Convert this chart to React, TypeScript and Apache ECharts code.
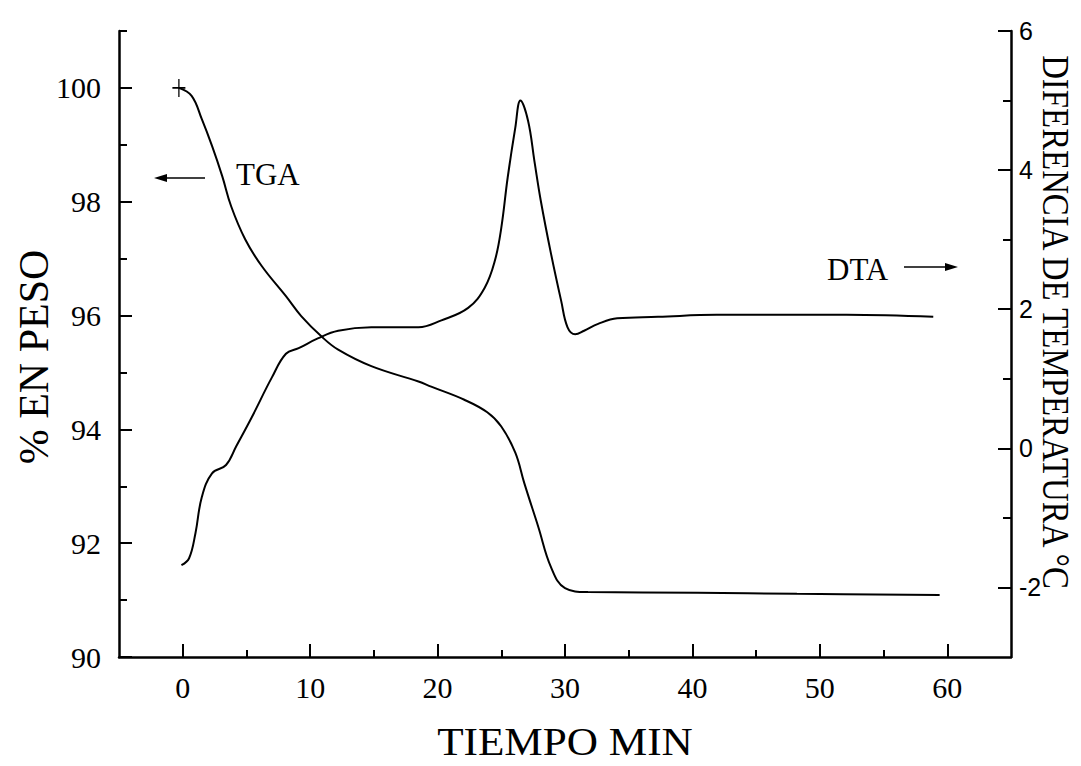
import React, { useEffect, useRef } from "react";
import * as echarts from "echarts";

// TGA curve (left axis, % weight) vs time (min)
const tgaTime = [-0.3, 0.7, 1.5, 2.3, 3.1, 3.8, 4.9, 6.2, 8.1, 9.3, 10.9, 12.2, 14.8, 18.5, 19.5, 22.1, 23.9, 25.0, 26.1, 26.8, 27.9, 28.9, 30.0, 31.8, 40.4, 48.2, 59.4];
const tgaWeight = [100.0, 99.86, 99.45, 98.98, 98.45, 97.92, 97.34, 96.87, 96.34, 95.99, 95.63, 95.40, 95.11, 94.84, 94.75, 94.52, 94.30, 94.05, 93.59, 93.06, 92.29, 91.58, 91.21, 91.14, 91.13, 91.11, 91.09];

// DTA curve (right axis, temperature difference °C) vs time (min)
const dtaTime = [-0.1, 0.5, 1.0, 1.5, 2.3, 3.4, 4.2, 5.4, 7.0, 8.1, 9.1, 10.6, 12.2, 14.8, 18.5, 20.3, 22.4, 23.7, 24.5, 25.0, 25.5, 26.1, 26.5, 27.1, 27.6, 28.1, 28.9, 29.7, 30.2, 30.8, 31.5, 32.6, 34.1, 37.3, 41.9, 52.1, 58.9];
const dtaDiff = [-1.68, -1.58, -1.22, -0.70, -0.36, -0.24, 0.03, 0.44, 1.02, 1.36, 1.44, 1.58, 1.69, 1.74, 1.74, 1.84, 2.02, 2.31, 2.70, 3.17, 3.89, 4.61, 5.0, 4.71, 4.13, 3.56, 2.80, 2.12, 1.74, 1.64, 1.69, 1.79, 1.87, 1.89, 1.92, 1.92, 1.89];

// Tick values
const xMajor = [0, 10, 20, 30, 40, 50, 60];
const xMinor = [5, 15, 25, 35, 45, 55];
const leftMajor = [90, 92, 94, 96, 98, 100];
const leftMinor = [91, 93, 95, 97, 99, 101];
const rightMajor = [-2, 0, 2, 4, 6];
const rightMinor = [-1, 1, 3, 5];

const SERIF = "'Liberation Serif', 'Times New Roman', serif";
const SANS = "'Liberation Sans', Arial, sans-serif";

export default function App() {
  const ref = useRef<HTMLDivElement>(null);
  useEffect(() => {
    if (!ref.current) return;
    const chart = echarts.init(ref.current, undefined, { renderer: "svg" });
    const axisLine = { show: true, onZero: false, lineStyle: { color: "#000", width: 2.5 } };
    const noLine = { show: false, onZero: false };
    const tgaData: any[] = tgaTime.map((t, i) => [t, tgaWeight[i]]);
    tgaData[0] = {
      value: tgaData[0],
      symbol: "path://M0,10L14,10M7,0L7,20",
      symbolSize: [13, 18],
      itemStyle: { color: "transparent", borderColor: "#000", borderWidth: 1.5 },
    };
    chart.setOption({
      animation: false,
      backgroundColor: "#fff",
      grid: { left: 119, right: 70, top: 31, bottom: 109 },
      xAxis: [
        {
          type: "value", min: -5, max: 65, position: "bottom",
          axisLine,
          axisTick: { show: true, inside: true, length: 13, customValues: xMajor, lineStyle: { color: "#000", width: 2 } },
          axisLabel: { customValues: xMajor, margin: 15, fontSize: 30, fontFamily: SERIF, color: "#000" },
          splitLine: { show: false },
        },
        {
          type: "value", min: -5, max: 65, position: "bottom",
          axisLine: noLine,
          axisTick: { show: true, inside: true, length: 7, customValues: xMinor, lineStyle: { color: "#000", width: 2 } },
          axisLabel: { show: false },
          splitLine: { show: false },
        },
      ],
      yAxis: [
        {
          type: "value", min: 90, max: 101, position: "left",
          axisLine,
          axisTick: { show: true, inside: true, length: 13, customValues: leftMajor, lineStyle: { color: "#000", width: 2 } },
          axisLabel: { customValues: leftMajor, margin: 18, fontSize: 30, fontFamily: SERIF, color: "#000" },
          splitLine: { show: false },
        },
        {
          type: "value", min: -3, max: 6, position: "right",
          axisLine,
          axisTick: { show: true, inside: true, length: 13, customValues: rightMajor, lineStyle: { color: "#000", width: 2 } },
          axisLabel: { customValues: rightMajor, margin: 8, fontSize: 25, fontFamily: SANS, color: "#000" },
          splitLine: { show: false },
        },
        {
          type: "value", min: 90, max: 101, position: "left",
          axisLine: noLine,
          axisTick: { show: true, inside: true, length: 8, customValues: leftMinor, lineStyle: { color: "#000", width: 2 } },
          axisLabel: { show: false },
          splitLine: { show: false },
        },
        {
          type: "value", min: -3, max: 6, position: "right",
          axisLine: noLine,
          axisTick: { show: true, inside: true, length: 8, customValues: rightMinor, lineStyle: { color: "#000", width: 2 } },
          axisLabel: { show: false },
          splitLine: { show: false },
        },
      ],
      series: [
        {
          name: "TGA", type: "line", xAxisIndex: 0, yAxisIndex: 0,
          data: tgaData, symbol: "none", smooth: 0.4,
          lineStyle: { color: "#000", width: 2 },
        },
        {
          name: "DTA", type: "line", xAxisIndex: 0, yAxisIndex: 1,
          data: dtaTime.map((t, i) => [t, dtaDiff[i]]), symbol: "none", smooth: 0.4,
          lineStyle: { color: "#000", width: 2 },
        },
      ],
      graphic: [
        { type: "text", x: 236, y: 174, style: { text: "TGA", fontSize: 31, fontFamily: SERIF, fill: "#000", verticalAlign: "middle" } },
        { type: "line", shape: { x1: 205, y1: 178, x2: 164, y2: 178 }, style: { stroke: "#000", lineWidth: 1.5 } },
        { type: "polygon", shape: { points: [[154, 178], [167, 174], [167, 182]] }, style: { fill: "#000" } },
        { type: "text", x: 827, y: 269, style: { text: "DTA", fontSize: 31, fontFamily: SERIF, fill: "#000", verticalAlign: "middle" } },
        { type: "line", shape: { x1: 904, y1: 267, x2: 948, y2: 267 }, style: { stroke: "#000", lineWidth: 1.5 } },
        { type: "polygon", shape: { points: [[958, 267], [945, 263], [945, 271]] }, style: { fill: "#000" } },
        { type: "text", x: 34, y: 357, rotation: Math.PI / 2, style: { text: "% EN PESO", fontSize: 42, fontFamily: SERIF, fill: "#000", align: "center", verticalAlign: "middle" } },
        { type: "text", x: 565, y: 742, scaleX: 1.08, style: { text: "TIEMPO MIN", fontSize: 40, fontFamily: SERIF, fill: "#000", align: "center", verticalAlign: "middle" } },
        { type: "text", x: 1056, y: 322, rotation: -Math.PI / 2, scaleX: 0.865, style: { text: "DIFERENCIA DE TEMPERATURA °C", fontSize: 38, fontFamily: SERIF, fill: "#000", align: "center", verticalAlign: "middle" } },
      ],
    });
    return () => chart.dispose();
  }, []);
  return <div ref={ref} style={{ position: "fixed", left: 0, top: 0, width: 1081, height: 766 }} />;
}
